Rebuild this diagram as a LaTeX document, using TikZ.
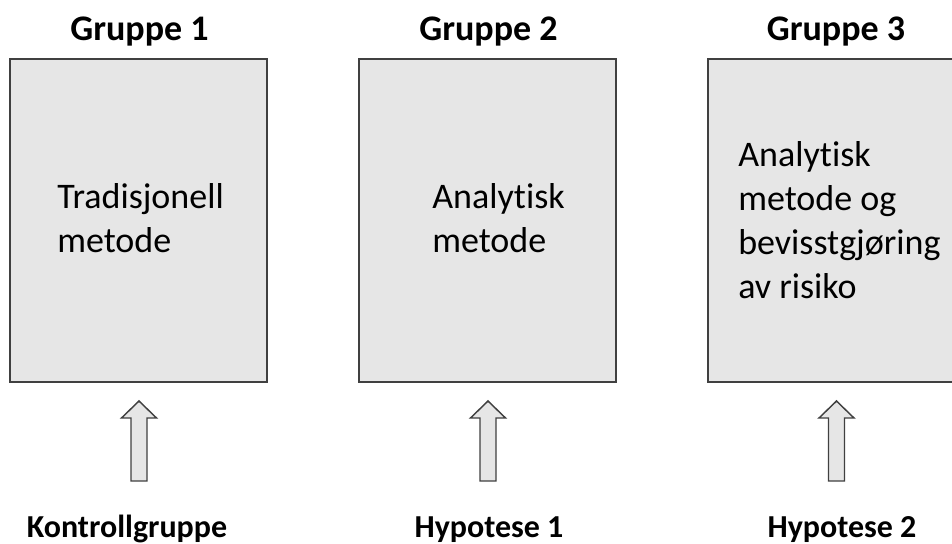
\documentclass[tikz,border=0pt]{standalone}
\usepackage{fontspec}
\setmainfont{Carlito}[Ligatures=NoCommon]
\usetikzlibrary{calc}
\usetikzlibrary{positioning}
\definecolor{boxgray}{HTML}{E6E6E6}
\definecolor{edgegray}{HTML}{404040}

\begin{document}
\begin{tikzpicture}[x=0.75pt, y=-0.75pt,
	gruppebox/.style={draw=edgegray, line width=1.5pt, fill=boxgray, minimum width=192.75pt, minimum height=242.25pt, inner sep=0pt},
	heading/.style={font=\bfseries\fontsize{27}{33}\selectfont, anchor=base, inner sep=0pt},
	hypo/.style={font=\bfseries\fontsize{24}{29}\selectfont, anchor=base, inner sep=0pt},
	boxtext/.style={font=\fontsize{27}{33}\selectfont, align=left, anchor=base west, inner sep=0pt},
	blockarrow/.style={draw=edgegray, line width=1.1pt, fill=boxgray, line join=miter}]
	%\draw [help lines, step=50, gray] (0,0) grid (952, 543);
	\clip (0,0) rectangle (952,543);

	\node (box1) [gruppebox] at (138.5,220.5) { };
	\node (box2) [gruppebox] at (487.5,220.5) { };
	\node (box3) [gruppebox] at (836,220.5) { };

	\node (G1) [heading] at ($(box1.north)+(1,-18)$) {Gruppe 1};
	\node (G2) [heading] at ($(box2.north)+(1,-18)$) {Gruppe 2};
	\node (G3) [heading] at ($(box3.north)+(0,-18)$) {Gruppe 3};

	% base = last line
	\node (T1) [boxtext] at (57,252) {Tradisjonell\\metode};
	\node (T2) [boxtext] at (432,252) {Analytisk\\metode};
	\node (T3) [boxtext] at (738,298) {Analytisk\\metode og\\bevisstgjøring\\av risiko};

	\node (H1) [hypo] at (127,537) {Kontrollgruppe};
	\node (H2) [hypo] at (489,537) {Hypotese 1};
	\node (H3) [hypo] at (842,537) {Hypotese 2};

	\foreach \i in {1,2,3} {
		\coordinate (tip\i) at ($(box\i.south)+(0.5,18)$);
		\draw [blockarrow] (tip\i) -- ++(17.5,17) -- ++(-9.5,0) -- ++(0,63)
			-- ++(-16,0) -- ++(0,-63) -- ++(-9.5,0) -- cycle;
	}
\end{tikzpicture}
\end{document}
